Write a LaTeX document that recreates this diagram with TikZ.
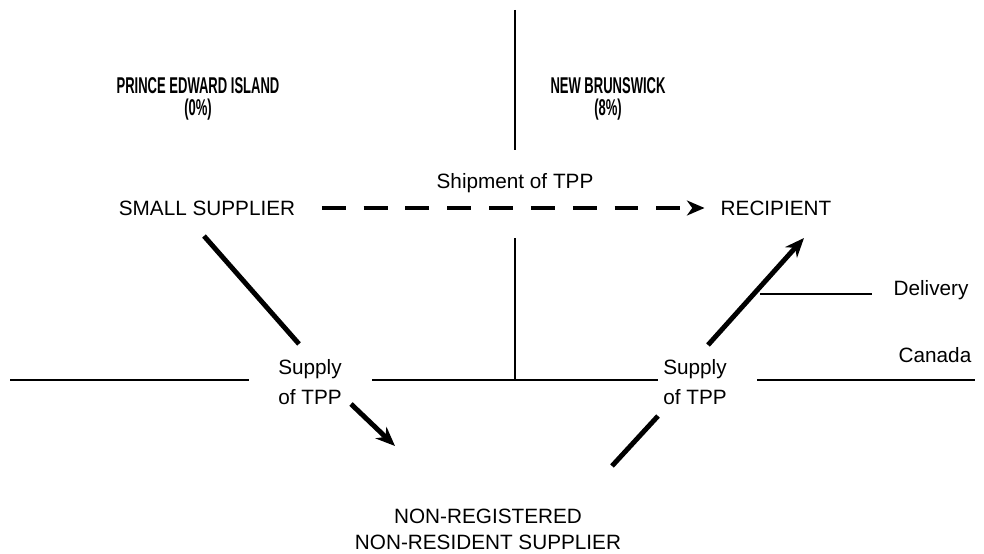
\documentclass[tikz,border=0pt]{standalone}
\usepackage{fontspec}
\setmainfont{Liberation Sans}
\newfontfamily\headfont[FakeStretch=0.57]{Liberation Sans}
\usepackage{tikz}
\usetikzlibrary{arrows.meta,positioning}

\begin{document}
\begin{tikzpicture}[x=0.02cm, y=-0.02cm,
    label/.style={align=center, inner sep=0pt, font=\fontsize{11.8}{17}\selectfont},
    heading/.style={align=center, inner sep=0pt, font=\headfont\bfseries\fontsize{13}{12.5}\selectfont},
    border/.style={line width=1.1pt},
    flow/.style={line width=2.8pt, -{Stealth[length=11pt, width=9pt, inset=3.5pt]}},
    plain/.style={line width=2.8pt},
    shipment/.style={line width=2.8pt, dash pattern=on 13.6pt off 10.2pt, -{Stealth[length=10pt, width=8.5pt, inset=3pt]}}
]
\useasboundingbox (0,0) rectangle (984,554);

% Provinces
\node[heading] (pei) at (198,99) {PRINCE EDWARD ISLAND\\(0\%)};
\node[heading] (nb) at (608,99) {NEW BRUNSWICK\\(8\%)};

% Border between provinces
\draw[border] (515,10) -- (515,150);
\draw[border] (515,238) -- (515,380);

% Canada line
\node[label] (supl) at (310,382) {Supply\\of TPP};
\node[label] (supr) at (695,382) {Supply\\of TPP};
\node[label] (canada) at (935,355) {Canada};
\draw[border] (10,380) -- (249,380);
\draw[border] (372,380) -- (658,380);
\draw[border] (757,380) -- (975,380);

% Parties
\node[label] (small) at (207,208) {SMALL SUPPLIER};
\node[label] (recip) at (776,208) {RECIPIENT};
\node[label, font=\fontsize{11.8}{14.7}\selectfont] (nrs) at (488,529) {NON-REGISTERED\\NON-RESIDENT SUPPLIER};

% Shipment
\node[label] (ship) at (515,183) {Shipment of TPP};
\draw[shipment, shorten <=15pt, shorten >=9pt] (small) -- (recip);

% Supply to the non-resident supplier
\coordinate (a1) at (204,236);
\coordinate (a2) at (299,344);
\coordinate (a3) at (351,404);
\coordinate (a4) at (395,446);
\draw[plain] (a1) -- (a2);
\draw[flow] (a3) -- (a4);

% Supply to the recipient
\coordinate (b1) at (612,466);
\coordinate (b2) at (658,416);
\coordinate (b3) at (708,345);
\coordinate (b4) at (804,238);
\draw[plain] (b1) -- (b2);
\draw[flow] (b3) -- (b4);

% Delivery
\node[label] (delivery) at (931,290) {Delivery};
\coordinate (d1) at (760,294);
\draw[border] (d1) -- (872,294);

\end{tikzpicture}
\end{document}
